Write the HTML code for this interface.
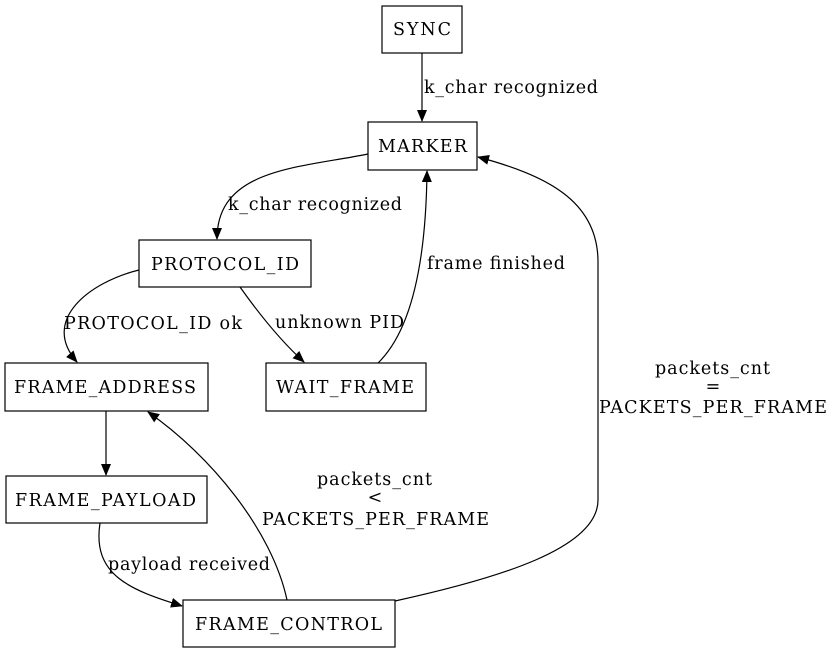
<!DOCTYPE html>
<html><head><meta charset="utf-8"><style>
html,body{margin:0;padding:0;background:#fff;}
svg{display:block;}
text{font-family:"DejaVu Serif","Liberation Serif",serif;font-size:17.5px;fill:#000;}
</style></head><body>
<svg width="833" height="653" viewBox="0 0 833 653" xmlns="http://www.w3.org/2000/svg">
<defs>
<marker id="a" markerWidth="12" markerHeight="10" refX="11" refY="5" orient="auto" markerUnits="userSpaceOnUse">
<path d="M0,0 L12,5 L0,10 Z" fill="#000"/>
</marker>
</defs>
<g fill="none" stroke="#000" stroke-width="1.2">
<rect x="382" y="6" width="80" height="47"/>
<rect x="368" y="122" width="109" height="48"/>
<rect x="139" y="240" width="172" height="47"/>
<rect x="5" y="363" width="203" height="48"/>
<rect x="266" y="363" width="160" height="48"/>
<rect x="6" y="476" width="201" height="47"/>
<rect x="183" y="600" width="212" height="47"/>
<path d="M422,53 L422,121" marker-end="url(#a)"/>
<path d="M368,154 C300,168 217,168 217,239" marker-end="url(#a)"/>
<path d="M139,270 C90,282 40,320 77,362" marker-end="url(#a)"/>
<path d="M240,287 C262,318 282,342 304,362" marker-end="url(#a)"/>
<path d="M378,363 C412,330 426,260 427,171" marker-end="url(#a)"/>
<path d="M106,411 L106,475" marker-end="url(#a)"/>
<path d="M100,523 C92,575 130,590 182,606" marker-end="url(#a)"/>
<path d="M287,600 C272,530 210,455 148,412" marker-end="url(#a)"/>
<path d="M395,601 C500,578 598,548 598,500 L598,262 C598,200 545,175 478,157" marker-end="url(#a)"/>
</g>
<g lengthAdjust="spacingAndGlyphs">
<text x="393" y="35" textLength="58">SYNC</text>
<text x="378" y="152" textLength="89">MARKER</text>
<text x="151" y="270" textLength="148">PROTOCOL_ID</text>
<text x="14" y="393" textLength="182">FRAME_ADDRESS</text>
<text x="276" y="393" textLength="138">WAIT_FRAME</text>
<text x="15" y="506" textLength="181">FRAME_PAYLOAD</text>
<text x="195" y="630" textLength="187">FRAME_CONTROL</text>
<text x="317" y="485" textLength="115">packets_cnt</text>
<text x="375" y="503" text-anchor="middle">&lt;</text>
<text x="262" y="525" textLength="227">PACKETS_PER_FRAME</text>
<text x="655" y="374" textLength="115">packets_cnt</text>
<text x="713" y="392" text-anchor="middle">=</text>
<text x="599" y="413" textLength="228">PACKETS_PER_FRAME</text>
<text x="424" y="93" textLength="174">k_char recognized</text>
<text x="228" y="210" textLength="174">k_char recognized</text>
<text x="64" y="329" textLength="178">PROTOCOL_ID ok</text>
<text x="275" y="328" textLength="129">unknown PID</text>
<text x="427" y="269" textLength="138">frame finished</text>
<text x="108" y="570" textLength="162">payload received</text>
</g>
</svg>
</body></html>
